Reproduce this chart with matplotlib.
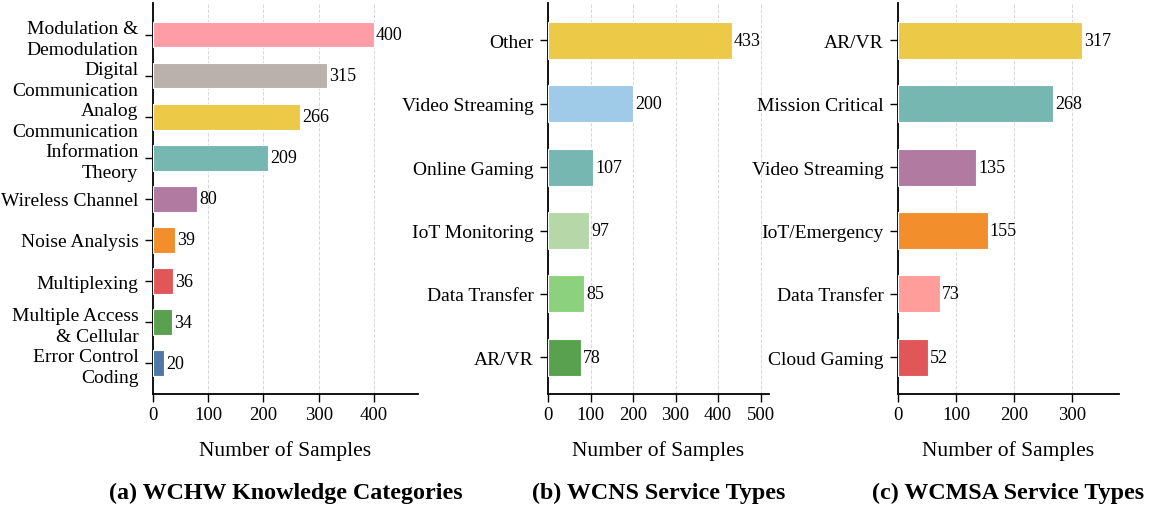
import matplotlib
matplotlib.use("Agg")
import matplotlib.pyplot as plt

plt.rcParams['font.family'] = ['Liberation Serif', 'DejaVu Serif']

# (a) WCHW knowledge categories
cats_a = ['Modulation &\nDemodulation', 'Digital\nCommunication', 'Analog\nCommunication',
          'Information\nTheory', 'Wireless Channel', 'Noise Analysis', 'Multiplexing',
          'Multiple Access\n& Cellular', 'Error Control\nCoding']
vals_a = [400, 315, 266, 209, 80, 39, 36, 34, 20]
cols_a = ['#FF9DA7', '#BAB0AC', '#EDC948', '#76B7B2', '#B07AA1', '#F28E2B',
          '#E15759', '#59A14F', '#4E79A7']

# (b) WCNS service types
cats_b = ['Other', 'Video Streaming', 'Online Gaming', 'IoT Monitoring', 'Data Transfer', 'AR/VR']
vals_b = [433, 200, 107, 97, 85, 78]
cols_b = ['#EDC948', '#A0CBE8', '#76B7B2', '#B6D7A8', '#8CD17D', '#59A14F']

# (c) WCMSA service types
cats_c = ['AR/VR', 'Mission Critical', 'Video Streaming', 'IoT/Emergency', 'Data Transfer', 'Cloud Gaming']
vals_c = [317, 268, 135, 155, 73, 52]
cols_c = ['#EDC948', '#76B7B2', '#B07AA1', '#F28E2B', '#FF9D9A', '#E15759']

titles = ['(a) WCHW Knowledge Categories', '(b) WCNS Service Types', '(c) WCMSA Service Types']

fig = plt.figure(figsize=(11.53, 5.1), dpi=100)
W, H = 1153, 510
boxes = [(153, 418), (548, 769), (898, 1119)]
xmaxes = [480, 520, 381]
xticks = [[0, 100, 200, 300, 400], [0, 100, 200, 300, 400, 500], [0, 100, 200, 300]]
panels = [(cats_a, vals_a, cols_a, 0.62), (cats_b, vals_b, cols_b, 0.58), (cats_c, vals_c, cols_c, 0.58)]
top, bot = 4, 395

for i, ((cats, vals, cols, bh), (x0, x1)) in enumerate(zip(panels, boxes)):
    ax = fig.add_axes([x0 / W, (H - bot) / H, (x1 - x0) / W, (bot - top) / H])
    y = list(range(len(cats)))
    ax.barh(y, vals, height=bh, color=cols, edgecolor='white', linewidth=0.8, zorder=3)
    for yi, v in zip(y, vals):
        ax.text(v + xmaxes[i] * 0.008, yi, str(v), va='center', ha='left', fontsize=13)
    n = len(cats)
    if n == 9:
        ax.set_ylim(n - 1 + 0.75, -0.77)
    else:
        ax.set_ylim(n - 1 + 0.58, -0.59)
    ax.set_xlim(0, xmaxes[i])
    ax.set_yticks(y)
    ax.set_yticklabels(cats, fontsize=14, linespacing=1.3)
    ax.set_xticks(xticks[i])
    ax.tick_params(axis='x', labelsize=13.5, length=5.5, width=1)
    ax.tick_params(axis='y', length=5.5, width=1, pad=5)
    ax.grid(axis='x', linestyle='--', color='#d8d8d8', linewidth=0.7, zorder=0)
    ax.set_axisbelow(True)
    for s in ['top', 'right']:
        ax.spines[s].set_visible(False)
    for s in ['left', 'bottom']:
        ax.spines[s].set_linewidth(1.3)
    ax.set_xlabel('Number of Samples', fontsize=15.5, labelpad=12)
    fig.text((x0 + x1) / 2 / W, (H - 493) / H, titles[i], ha='center', va='center',
             fontsize=17.3, fontweight='bold')

fig.savefig('out.png', dpi=100)
